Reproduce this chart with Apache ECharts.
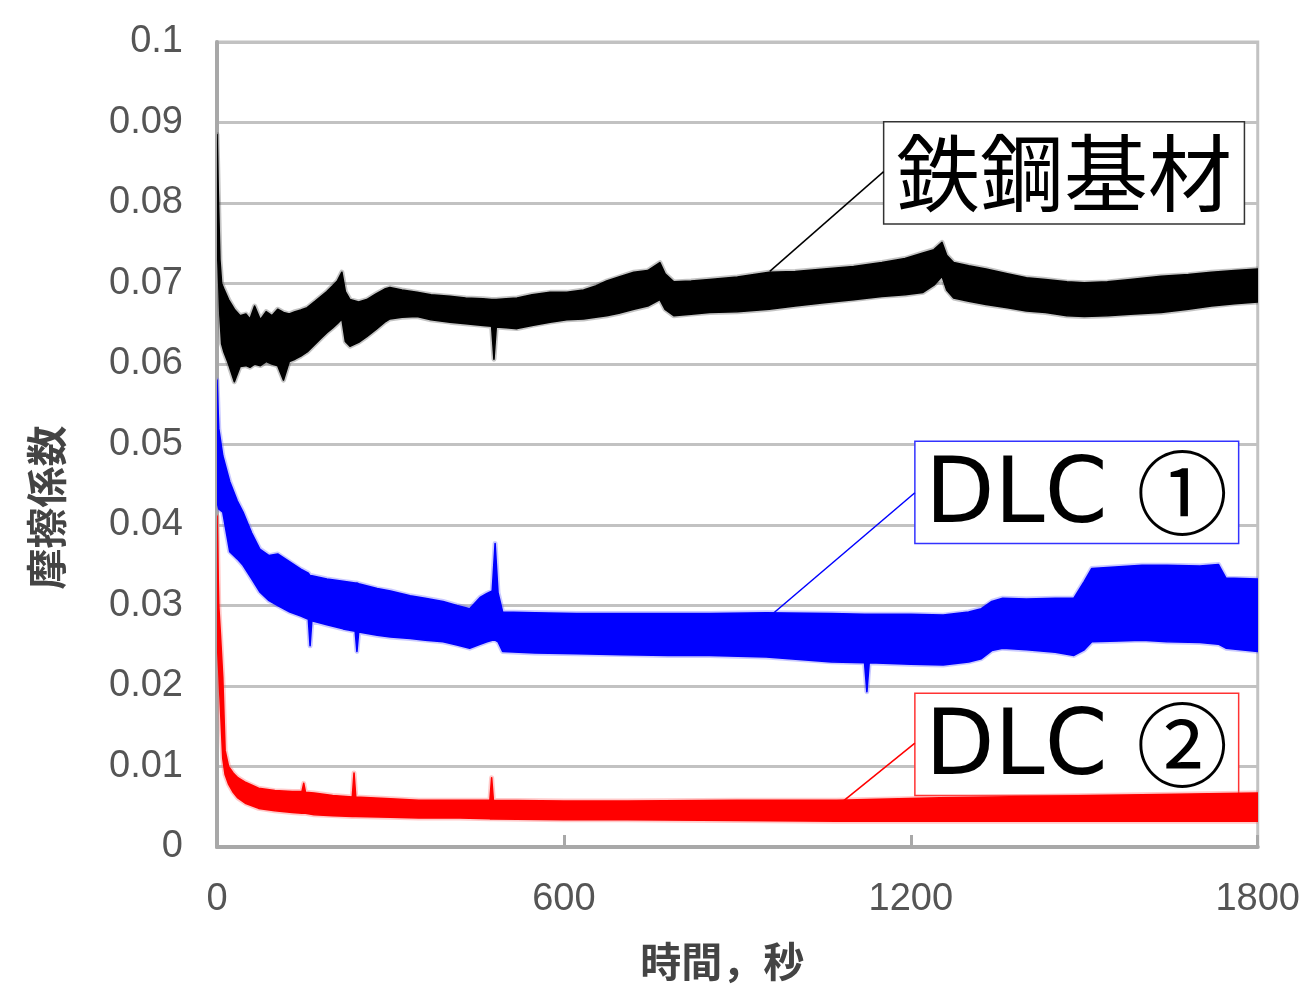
<!DOCTYPE html>
<html>
<head>
<meta charset="utf-8">
<script src="https://cdn.jsdelivr.net/npm/echarts@6/dist/echarts.min.js"></script>
<style>
html,body{margin:0;padding:0;background:#fff;}
#chart{width:1303px;height:987px;}
</style>
</head>
<body>
<div id="chart"></div>
<script>
// ---- Data ----
var xTicks = [0, 600, 1200, 1800];
var yTickLabels = ['0','0.01','0.02','0.03','0.04','0.05','0.06','0.07','0.08','0.09','0.1'];

// 鉄鋼基材 (steel substrate) : time, upper and lower envelope of the noisy trace
var steelT     = [0,2,5,8,12,20,30,40,50,57,65,75,85,95,105,115,125,135,145,156,170,180,190,200,208,216,222,230,245,259,275,290,299,320,346,370,403,430,460,475,479,483,500,519,545,576,605,634,655,674,695,721,745,766,775,790,820,852,900,955,1000,1050,1101,1150,1190,1221,1240,1254,1262,1274,1300,1330,1367,1400,1433,1470,1500,1540,1580,1633,1680,1720,1760,1800];
var steelUpper = [0.0885,0.082,0.073,0.0700,0.0693,0.0680,0.0668,0.0660,0.0662,0.0656,0.0672,0.0655,0.0665,0.0660,0.0668,0.0664,0.0662,0.0665,0.0667,0.0670,0.0678,0.0684,0.0690,0.0697,0.0703,0.0714,0.0690,0.0680,0.0677,0.0680,0.0687,0.0693,0.0695,0.0692,0.0689,0.0686,0.0684,0.0682,0.0681,0.0680,0.0680,0.0680,0.0681,0.0682,0.0686,0.0689,0.0689,0.0692,0.0697,0.0703,0.0708,0.0714,0.0716,0.0726,0.0712,0.0702,0.0703,0.0705,0.0708,0.0714,0.0715,0.0718,0.0721,0.0726,0.0731,0.0738,0.0742,0.0751,0.0735,0.0726,0.0722,0.0718,0.0712,0.0707,0.0705,0.0702,0.0701,0.0702,0.0705,0.0709,0.0711,0.0714,0.0716,0.0718];
var steelLower = [0.0750,0.072,0.066,0.0625,0.0615,0.0600,0.0578,0.0597,0.0598,0.0596,0.0600,0.0598,0.0603,0.0600,0.0598,0.0580,0.0603,0.0606,0.0610,0.0615,0.0625,0.0632,0.0639,0.0645,0.0650,0.0656,0.0628,0.0622,0.0627,0.0634,0.0643,0.0652,0.0656,0.0658,0.0659,0.0655,0.0652,0.0650,0.0648,0.0647,0.0606,0.0646,0.0645,0.0644,0.0648,0.0652,0.0655,0.0656,0.0658,0.0660,0.0663,0.0668,0.0672,0.0680,0.0668,0.0660,0.0662,0.0664,0.0665,0.0668,0.0672,0.0676,0.0680,0.0684,0.0686,0.0689,0.0698,0.0709,0.0692,0.0682,0.0678,0.0674,0.0670,0.0666,0.0664,0.0660,0.0659,0.0660,0.0662,0.0664,0.0668,0.0672,0.0675,0.0677];

// DLC ①
var dlc1T     = [0,3,10,22,35,45,60,74,90,105,126,145,158,161,164,190,218,239,242,245,277,300,334,360,391,415,437,455,467,476,481,486,494,550,622,700,780,852,950,1063,1120,1124,1128,1200,1256,1300,1322,1340,1359,1400,1450,1482,1500,1513,1560,1600,1643,1700,1732,1745,1800];
var dlc1Upper = [0.058,0.052,0.0486,0.0454,0.0430,0.0416,0.0390,0.0370,0.0362,0.0364,0.0354,0.0345,0.0340,0.0337,0.0337,0.0333,0.0330,0.0328,0.0328,0.0327,0.0321,0.0318,0.0312,0.0309,0.0305,0.0300,0.0296,0.0310,0.0315,0.0318,0.0377,0.0316,0.0292,0.0291,0.0290,0.0290,0.0290,0.0290,0.0291,0.0290,0.0289,0.0289,0.0289,0.0289,0.0288,0.0292,0.0296,0.0305,0.0309,0.0308,0.0309,0.0309,0.0330,0.0346,0.0348,0.0350,0.0350,0.0349,0.0351,0.0334,0.0333];
var dlc1Lower = [0.0429,0.042,0.0416,0.0367,0.0358,0.0350,0.0333,0.0317,0.0306,0.0300,0.0292,0.0287,0.0283,0.0250,0.0281,0.0276,0.0271,0.0268,0.0243,0.0267,0.0263,0.0261,0.0259,0.0257,0.0255,0.0251,0.0247,0.0252,0.0255,0.0257,0.0257,0.0255,0.0243,0.0241,0.0240,0.0239,0.0238,0.0238,0.0236,0.0230,0.0229,0.0193,0.0229,0.0227,0.0226,0.0230,0.0234,0.0244,0.0247,0.0245,0.0242,0.0238,0.0245,0.0255,0.0256,0.0257,0.0255,0.0254,0.0252,0.0247,0.0243];

// DLC ②
var dlc2T     = [0,3,6,10,14,20,28,36,50,72,100,130,147,150,153,168,200,234,237,240,300,349,420,472,475,478,600,710,900,1072,1250,1433,1600,1800];
var dlc2Upper = [0.0411,0.0300,0.0263,0.0210,0.0120,0.0100,0.0092,0.0086,0.0080,0.0073,0.0070,0.0069,0.0069,0.0079,0.0068,0.0067,0.0064,0.0062,0.0092,0.0062,0.0060,0.0058,0.0058,0.0058,0.0086,0.0058,0.0057,0.0057,0.0058,0.0058,0.0061,0.0063,0.0065,0.0067];
var dlc2Lower = [0.0260,0.0220,0.0172,0.0110,0.0090,0.0078,0.0068,0.0061,0.0054,0.0048,0.0045,0.0043,0.0042,0.0042,0.0042,0.0040,0.0039,0.0038,0.0038,0.0038,0.0037,0.0036,0.0036,0.0035,0.0035,0.0035,0.0034,0.0034,0.0033,0.0032,0.0032,0.0032,0.0032,0.0032];

// annotation labels, boxes [t1, v1, t2, v2] and leader lines [tFrom, vFrom, tTo, vTo]
var labels     = ['鉄鋼基材', 'DLC ①', 'DLC ②'];
var labelMain  = ['鉄鋼基材', 'DLC ', 'DLC '];
var labelMark  = ['', '①', '②'];
var boxes    = [[1153,0.0901,1777,0.0774],[1207,0.0504,1767,0.0377],[1207,0.0191,1767,0.0064]];
var leaders  = [[956,0.0715,1153,0.0839],[947,0.0281,1207,0.0440],[1083,0.0057,1207,0.0129]];
var colors   = ['#000000','#0000ff','#ff0000'];
var haloColors = ['#555555','#6666ff','#ff6666'];
var boxBorders = ['#333333','#3333ff','#ff3333'];

// ---- Build chart ----
var sets = [
  {t: steelT, up: steelUpper, lo: steelLower},
  {t: dlc1T, up: dlc1Upper, lo: dlc1Lower},
  {t: dlc2T, up: dlc2Upper, lo: dlc2Lower}
];

var labelRich = [
  {a: {fontSize: 84, fontFamily: '"Noto Sans CJK JP", sans-serif', color: '#000'},
   b: {fontSize: 84, fontFamily: '"Noto Sans CJK JP", sans-serif', color: '#000'}},
  {a: {fontSize: 90, fontFamily: '"DejaVu Sans", sans-serif', color: '#000'},
   b: {fontSize: 92, fontFamily: '"Noto Sans CJK JP", sans-serif', color: '#000', padding: [0, 0, 10, 0]}},
  {a: {fontSize: 90, fontFamily: '"DejaVu Sans", sans-serif', color: '#000'},
   b: {fontSize: 92, fontFamily: '"Noto Sans CJK JP", sans-serif', color: '#000', padding: [0, 0, 10, 0]}}
];
var labelOffsets = [[0, 0], [0, 6], [0, 6]];

var series = [];
sets.forEach(function(s, k){
  series.push({
    type: 'custom',
    silent: true,
    clip: true,
    data: s.t.map(function(x, i){ return [x, s.up[i], s.lo[i]]; }),
    encode: {x: 0, y: [1, 2]},
    renderItem: function(params, api){
      if (params.dataIndex !== 0) return null;
      var pts = [];
      for (var i = 0; i < s.t.length; i++) pts.push(api.coord([s.t[i], s.up[i]]));
      for (var j = s.t.length - 1; j >= 0; j--) pts.push(api.coord([s.t[j], s.lo[j]]));
      return {
        type: 'group',
        children: [
          {type: 'polygon', shape: {points: pts},
           style: {fill: 'none', stroke: haloColors[k], lineWidth: 5, opacity: 0.35, lineJoin: 'round'}},
          {type: 'polygon', shape: {points: pts},
           style: {fill: colors[k], stroke: colors[k], lineWidth: 1.6, lineJoin: 'round'}}
        ]
      };
    },
    z: 3
  });
  // annotation box + leader line
  series.push({
    type: 'line', data: [], silent: true, symbol: 'none',
    markArea: {
      silent: true,
      itemStyle: {color: '#ffffff', borderColor: boxBorders[k], borderWidth: 1.5, opacity: 1},
      label: {show: true, position: 'inside', offset: labelOffsets[k],
              formatter: '{a|' + labelMain[k] + '}' + (labelMark[k] ? '{b|' + labelMark[k] + '}' : ''),
              rich: labelRich[k]},
      data: [[{name: labels[k], coord: [boxes[k][0], boxes[k][1]]}, {coord: [boxes[k][2], boxes[k][3]]}]]
    },
    markLine: {
      silent: true, symbol: ['none','none'],
      lineStyle: {color: colors[k], width: 1.5, type: 'solid'},
      label: {show: false},
      data: [[{coord: [leaders[k][0], leaders[k][1]]}, {coord: [leaders[k][2], leaders[k][3]]}]]
    },
    z: 4
  });
});

var chart = echarts.init(document.getElementById('chart'));
chart.setOption({
  animation: false,
  backgroundColor: '#ffffff',
  grid: {left: 217, right: 45, top: 42, bottom: 138, show: true,
         borderColor: '#c2c2c2', borderWidth: 3, backgroundColor: 'transparent'},
  xAxis: {
    type: 'value', min: 0, max: 1800, interval: 600,
    name: '時間，秒', nameLocation: 'middle', nameGap: 94,
    nameTextStyle: {fontSize: 41, color: '#444', fontFamily: '"Noto Sans CJK JP", sans-serif', fontWeight: 'bold',
                    padding: [0, 30, 0, 0]},
    axisLine: {show: true, onZero: false, lineStyle: {color: '#a8a8a8', width: 4}},
    axisTick: {show: true, inside: true, length: 12, lineStyle: {color: '#a8a8a8', width: 3}},
    splitLine: {show: false},
    axisLabel: {fontSize: 38, color: '#555', margin: 34, fontFamily: '"Liberation Sans", Arial, sans-serif',
                formatter: function(v){ return xTicks.indexOf(v) >= 0 ? String(v) : ''; }}
  },
  yAxis: {
    type: 'value', min: 0, max: 0.1, interval: 0.01,
    name: '摩擦係数', nameLocation: 'middle', nameGap: 150, nameRotate: 90,
    nameTextStyle: {fontSize: 41, color: '#444', fontFamily: '"Noto Sans CJK JP", sans-serif', fontWeight: 'bold',
                    padding: [0, 126, 0, 0]},
    axisLine: {show: true, lineStyle: {color: '#a8a8a8', width: 4}},
    axisTick: {show: false},
    splitLine: {show: true, lineStyle: {color: '#c2c2c2', width: 3}},
    axisLabel: {fontSize: 38, color: '#555', margin: 34, fontFamily: '"Liberation Sans", Arial, sans-serif',
                formatter: function(v){ return yTickLabels[Math.round(v * 100)]; }}
  },
  series: series
});
</script>
</body>
</html>
